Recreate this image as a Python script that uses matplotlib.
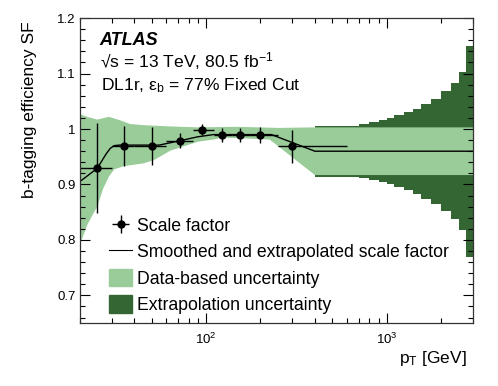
import numpy as np
import matplotlib
matplotlib.use('Agg')
import matplotlib.pyplot as plt
from matplotlib.lines import Line2D
from matplotlib.patches import Patch
from matplotlib.ticker import MultipleLocator, NullFormatter, FuncFormatter

plt.rcParams['font.family'] = ['Liberation Sans', 'DejaVu Sans']
plt.rcParams['mathtext.fontset'] = 'custom'
plt.rcParams['mathtext.rm'] = 'Liberation Sans'
plt.rcParams['mathtext.it'] = 'Liberation Sans:italic'
plt.rcParams['mathtext.bf'] = 'Liberation Sans:bold'

LIGHT = '#99cc99'
DARK = '#336633'

# measured scale factors
sf_edges = [20, 30, 40, 60, 85, 110, 140, 175, 250, 600]
sf_pt = [25, 35, 50, 72, 95, 122, 155, 200, 300]
sf_val = [0.929, 0.969, 0.969, 0.979, 0.999, 0.989, 0.989, 0.989, 0.969]
sf_err = [0.081, 0.036, 0.034, 0.013, 0.010, 0.013, 0.013, 0.015, 0.030]

# smoothed / extrapolated scale factor
smooth_pt = [20, 25, 28, 29.5, 31, 33, 55, 72, 90, 110, 230, 400, 3000]
smooth_sf = [0.905, 0.929, 0.955, 0.965, 0.970, 0.971, 0.971, 0.979,
             0.986, 0.990, 0.990, 0.960, 0.960]

# data-based uncertainty band edges
band_pt_up = [20, 22, 25, 29, 34, 38, 45, 60, 90, 150, 250, 400, 3000]
band_up = [1.027, 1.022, 1.017, 1.022, 1.015, 1.009, 1.007, 1.005, 1.003,
           1.004, 1.002, 1.003, 1.003]
band_pt_lo = [20, 22, 25, 27, 29, 31, 35, 45, 51.5, 63.5, 75.5, 90, 115,
              120, 225, 400, 3000]
band_lo = [0.79, 0.827, 0.860, 0.893, 0.914, 0.927, 0.933, 0.938, 0.944,
           0.961, 0.969, 0.977, 0.982, 0.985, 0.981, 0.917, 0.917]

# extrapolation uncertainty (half width around 0.96)
ext_edges = [400, 700, 800, 900, 1000, 1100, 1250, 1400, 1550, 1750, 2000,
             2250, 2500, 2750, 3000]
ext_err = [0.046, 0.049, 0.052, 0.056, 0.060, 0.065, 0.070, 0.077, 0.086,
           0.095, 0.108, 0.123, 0.142, 0.190]
ext_center = 0.96

labels = ['Scale factor', 'Smoothed and extrapolated scale factor',
          'Data-based uncertainty', 'Extrapolation uncertainty']


def main():
    fig = plt.figure(figsize=(4.98, 3.86), dpi=100)
    ax = fig.add_axes([0.160, 0.163, 0.790, 0.790])

    err = np.array(ext_err + [ext_err[-1]])
    ax.fill_between(ext_edges, ext_center - err, ext_center + err,
                    step='post', color=DARK, lw=0)

    xs = np.concatenate([band_pt_up, band_pt_lo[::-1]])
    ys = np.concatenate([band_up, band_lo[::-1]])
    ax.fill(xs, ys, color=LIGHT, lw=0)

    ax.plot(smooth_pt, smooth_sf, color='black', lw=1)

    pt = np.array(sf_pt)
    edges = np.array(sf_edges)
    xerr = [pt - edges[:-1], edges[1:] - pt]
    eb = ax.errorbar(pt, sf_val, yerr=sf_err, xerr=xerr, fmt='o',
                     color='black', ms=5, lw=1, capsize=0)

    ax.set_xscale('log')
    ax.set_xlim(20, 3000)
    ax.set_ylim(0.65, 1.2)
    ax.xaxis.set_minor_formatter(NullFormatter())
    ax.yaxis.set_major_locator(MultipleLocator(0.1))
    ax.yaxis.set_minor_locator(MultipleLocator(0.02))
    ax.yaxis.set_major_formatter(FuncFormatter(lambda v, p: '%g' % round(v, 2)))
    ax.tick_params(which='both', direction='in', top=True, right=True,
                   labelsize=9.5, width=0.8)
    ax.tick_params(which='major', length=7.5)
    ax.tick_params(which='minor', length=3.8)
    ax.tick_params(axis='x', pad=6)
    ax.tick_params(axis='y', pad=3)
    for s in ax.spines.values():
        s.set_linewidth(0.9)
        s.set_color('#333333')

    ax.set_xlabel('p$_\\mathrm{T}$ [GeV]', fontsize=12.5, loc='right')
    ax.xaxis.set_label_coords(0.983, -0.085)
    ax.set_ylabel('b-tagging efficiency SF', fontsize=12.5, loc='top',
                  labelpad=14)
    ax.yaxis.set_label_coords(-0.108, 0.99)

    ax.text(0.051, 0.911, 'ATLAS', transform=ax.transAxes, fontsize=13,
            fontweight='bold', fontstyle='italic', va='baseline')
    ax.text(0.051, 0.839, '\u221as = 13 TeV, 80.5 fb$^{-1}$',
            transform=ax.transAxes, fontsize=12.6, va='baseline')
    ax.text(0.053, 0.764, 'DL1r, \u03b5$_\\mathrm{b}$ = 77% Fixed Cut',
            transform=ax.transAxes, fontsize=12.6, va='baseline')

    handles = [eb, Line2D([], [], color='black', lw=0.8),
               Patch(color=LIGHT), Patch(color=DARK)]
    ax.legend(handles, labels, loc='upper left', bbox_to_anchor=(0.075, 0.35),
              frameon=False, fontsize=12.7, handlelength=1.3, handleheight=1.15,
              handletextpad=0.3, labelspacing=0.43, borderpad=0,
              borderaxespad=0)

    fig.savefig('out.png', dpi=100)


if __name__ == '__main__':
    main()
